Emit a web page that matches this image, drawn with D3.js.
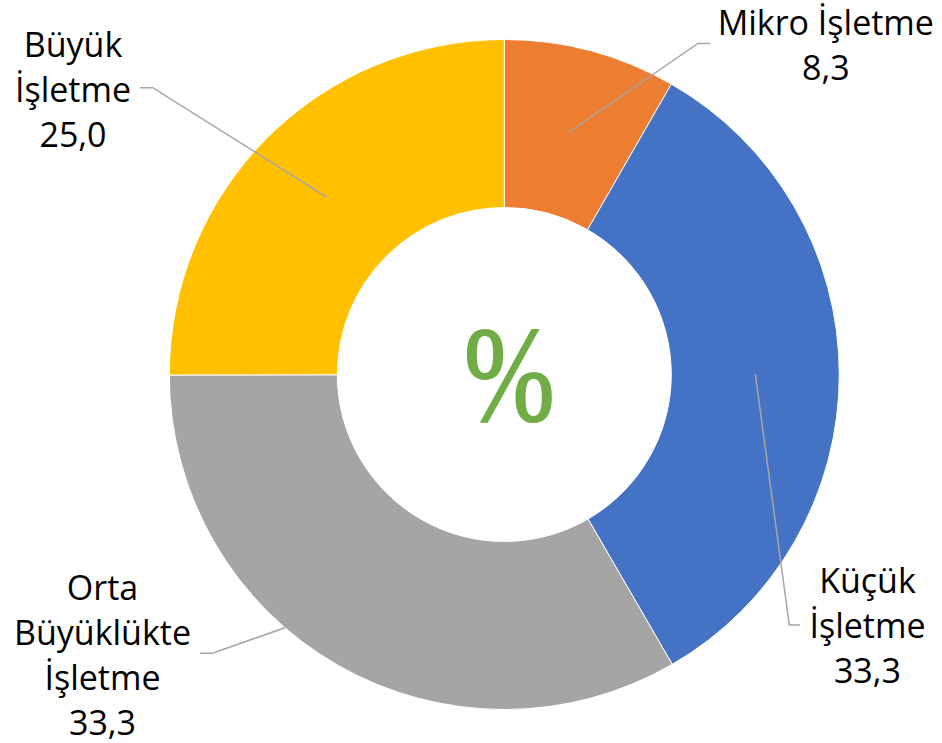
<!DOCTYPE html>
<html>
<head>
<meta charset="utf-8">
<script src="https://cdn.jsdelivr.net/npm/d3@7"></script>
<style>
  body { margin: 0; background: #fff; }
  text { font-family: "Open Sans", "Noto Sans", sans-serif; }
</style>
</head>
<body>
<div id="chart"></div>
<script>
// data
let categories = ["Mikro İşletme", "Küçük İşletme", "Orta Büyüklükte İşletme", "Büyük İşletme"];
let values = [8.3, 33.3, 33.3, 25.0];
let valueLabels = ["8,3", "33,3", "33,3", "25,0"];
let labelLines = [["Mikro İşletme"], ["Küçük", "İşletme"], ["Orta", "Büyüklükte", "İşletme"], ["Büyük", "İşletme"]];
let colors = ["#ED7D31", "#4472C4", "#A5A5A5", "#FFC000"];

// setting up svg
let svgwidth = 942;
let svgheight = 743;
let cx = 504.3;
let cy = 374.5;
let outerR = 335;
let innerR = 167;

let svg = d3.select("#chart")
    .append("svg")
    .attr("width", svgwidth)
    .attr("height", svgheight);

let g = svg.append("g")
    .attr("transform", `translate(${cx}, ${cy})`);

let color = d3.scaleOrdinal()
    .domain(categories)
    .range(colors);

let pie = d3.pie()
    .sort(null)
    .value(d => d.value);

let arc = d3.arc()
    .innerRadius(innerR)
    .outerRadius(outerR);

let data = categories.map((c, i) => ({ name: c, value: values[i], label: valueLabels[i], lines: labelLines[i] }));
let arcs = pie(data);

g.selectAll("path.slice")
    .data(arcs)
    .enter()
    .append("path")
    .attr("class", "slice")
    .attr("d", arc)
    .attr("fill", d => color(d.data.name))
    .attr("stroke", "#fff")
    .attr("stroke-width", 1);

// label layout (relative to center): text center x, first baseline, leader elbow, leader end
let layout = [
    { tx: 321.5, ty: -339.5, ex: 193.7, ey: -331, endX: 205.7, anchor: "centroid" },
    { tx: 363.2, ty: 218.5, ex: 285, ey: 250.5, endX: 295.7, anchor: "centroid" },
    { tx: -401.8, ty: 225, ex: -292, ey: 278.8, endX: -304.3, anchor: 220.9 },
    { tx: -431.3, ty: -317.5, ex: -351.6, ey: -286.8, endX: -364.3, anchor: "centroid" }
];
let lineH = 45;

// leader lines
arcs.forEach(function(d, i) {
    let L = layout[i];
    let start;
    if (L.anchor === "centroid") {
        start = arc.centroid(d);
    } else {
        let a = L.anchor * Math.PI / 180;
        start = [Math.sin(a) * outerR, -Math.cos(a) * outerR];
    }
    g.append("polyline")
        .attr("points", [start, [L.ex, L.ey], [L.endX, L.ey]].map(p => p.join(",")).join(" "))
        .attr("fill", "none")
        .attr("stroke", "#A6A6A6")
        .attr("stroke-width", 1.5);
});

// labels
arcs.forEach(function(d, i) {
    let L = layout[i];
    let t = g.append("text")
        .attr("text-anchor", "middle")
        .attr("font-size", 34)
        .attr("fill", "#000");
    let lines = d.data.lines.concat([d.data.label]);
    lines.forEach(function(s, j) {
        t.append("tspan")
            .attr("x", L.tx)
            .attr("y", L.ty + j * lineH)
            .text(s);
    });
});

// center percent sign
g.append("text")
    .attr("transform", "translate(5, 45) scale(0.8, 1)")
    .attr("text-anchor", "middle")
    .style("font-family", "'Liberation Serif', 'DejaVu Serif', serif")
    .attr("font-size", 136)
    .attr("fill", "#70AD47")
    .attr("stroke", "#70AD47")
    .attr("stroke-width", 2.2)
    .text("%");
</script>
</body>
</html>
